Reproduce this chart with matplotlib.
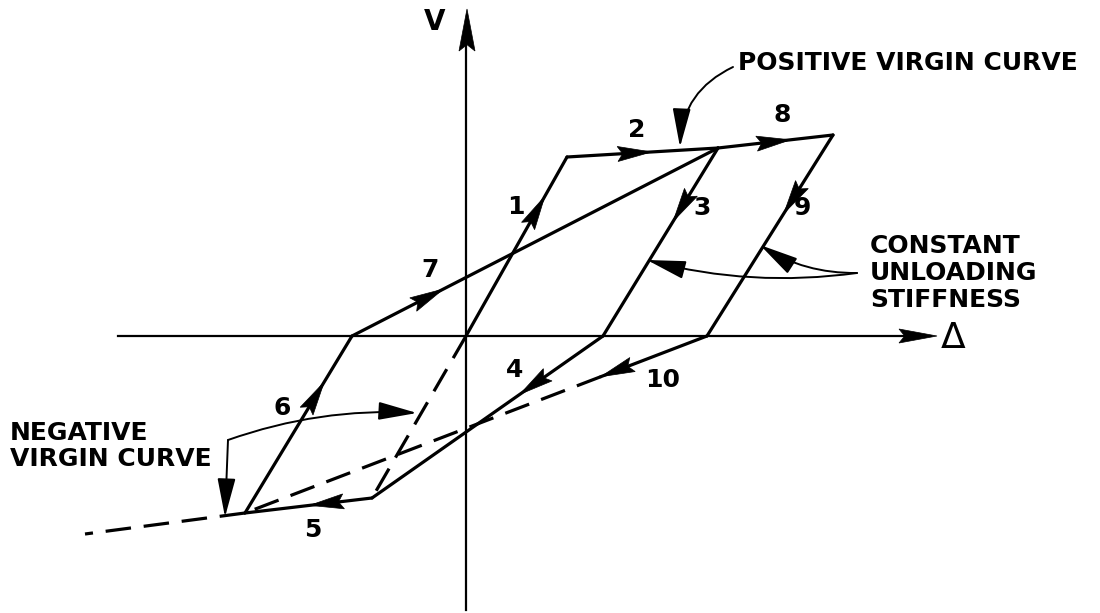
import numpy as np
import matplotlib
matplotlib.use('Agg')
import matplotlib.pyplot as plt
from matplotlib.patches import Polygon, FancyArrowPatch

# key points of the hysteresis path (delta, V), arbitrary units
pt_name = ['O', 'A', 'B', 'C', 'D', 'E', 'F', 'G', 'H']
pt_delta = [0, 101, 252, 367, 137, 241, -94, -221, -114]
pt_v = [0, 179, 188, 201, 0, 0, -162, -177, 0]

# loading branches 1..10
branch_label = ['1', '2', '3', '4', '5', '6', '7', '8', '9', '10']
branch_from = ['O', 'A', 'B', 'D', 'F', 'G', 'H', 'B', 'C', 'E']
branch_to = ['A', 'B', 'D', 'F', 'G', 'H', 'B', 'C', 'E', 'G']
branch_arrow = [0.78, 0.56, 0.39, 0.36, 0.49, 0.74, 0.25, 0.63, 0.39, 0.23]
branch_solid = [1, 1, 1, 1, 1, 1, 1, 1, 1, 0.23]
label_delta = [50, 171, 236, 49, -153, -184, -36, 316, 336, 197]
label_v = [129, 206, 128, -34, -194, -72, 66, 221, 128, -44]

# negative virgin curve (dashed parts)
neg_elastic_delta = [0, -94]
neg_elastic_v = [0, -162]
neg_tail_delta = [-221, -381]
neg_tail_v = [-177, -198]

P = {n: np.array([d, v], float) for n, d, v in zip(pt_name, pt_delta, pt_v)}

fig = plt.figure(figsize=(11, 6.13), dpi=100)
ax = fig.add_axes([0, 0, 1, 1])
ax.set_xlim(-466, 634)
ax.set_ylim(-277, 336)
ax.axis('off')

LW = 2.3
FS = 18
FW = 'bold'


def head(tip, direction, length=34, width=15):
    d = np.asarray(direction, float)
    d = d / np.linalg.norm(d)
    n = np.array([-d[1], d[0]])
    tip = np.asarray(tip, float)
    base = tip - d * length
    notch = tip - d * length * 0.85
    pts = [tip, base + n * width / 2, notch, base - n * width / 2]
    ax.add_patch(Polygon(pts, closed=True, facecolor='black', edgecolor='black', lw=0.5, zorder=5))


# axes
ax.plot([-348, 460], [0, 0], color='black', lw=1.6)
head((471, 0), (1, 0), length=38, width=14)
ax.plot([0, 0], [-274, 300], color='black', lw=1.6)
head((1, 327), (0, 1), length=42, width=16)
ax.text(-31, 314, 'V', fontsize=20, fontweight=FW, ha='center', va='center')
ax.text(487, -2, 'Δ', fontsize=26, ha='center', va='center')

# branches
for lab, a, b, fa, fs, lx, ly in zip(branch_label, branch_from, branch_to, branch_arrow,
                                     branch_solid, label_delta, label_v):
    p0, p1 = P[a], P[b]
    ps = p0 + (p1 - p0) * fs
    ax.plot([p0[0], ps[0]], [p0[1], ps[1]], color='black', lw=LW, solid_capstyle='round')
    if fs < 1:
        ax.plot([ps[0], p1[0]], [ps[1], p1[1]], color='black', lw=LW, dashes=(8, 4))
    head(p0 + (p1 - p0) * fa, p1 - p0)
    ax.text(lx, ly, lab, fontsize=FS, fontweight=FW, ha='center', va='center')

ax.plot(neg_elastic_delta, neg_elastic_v, color='black', lw=LW, dashes=(8, 4))
ax.plot(neg_tail_delta, neg_tail_v, color='black', lw=LW, dashes=(8, 4))

# annotations
ax.text(272, 273, 'POSITIVE VIRGIN CURVE', fontsize=FS, fontweight=FW, ha='left', va='center')
ax.text(404, 63, 'CONSTANT\nUNLOADING\nSTIFFNESS', fontsize=FS, fontweight=FW, ha='left',
        va='center', linespacing=1.15)
ax.text(-456, -110, 'NEGATIVE\nVIRGIN CURVE', fontsize=FS, fontweight=FW, ha='left',
        va='center', linespacing=1.15)

style = '-|>,head_length=1.2,head_width=0.28'
curves = [((267, 269), (214, 189), 0.3),
          ((391, 63), (294, 91), -0.15),
          ((391, 63), (181, 76), -0.1),
          ((-238, -104), (-241, -181), 0.0),
          ((-238, -104), (-49, -77), -0.1)]
for s, e, rad in curves:
    ax.add_patch(FancyArrowPatch(s, e, connectionstyle=f'arc3,rad={rad}', arrowstyle=style,
                                 mutation_scale=20, color='black', lw=1.4,
                                 shrinkA=0, shrinkB=0))

fig.savefig('out.png', dpi=100, facecolor='white')
